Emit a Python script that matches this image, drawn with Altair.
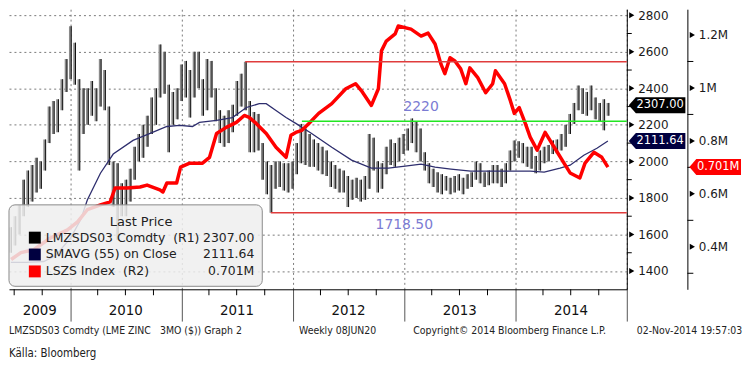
import altair as alt
import pandas as pd

# ---------------- data ----------------
BAR_START = "2009-06-19"
BAR_STEP = "14D"

price_low = [1500, 1540, 1600, 1700, 1750, 1780, 1830, 1850, 1950, 2100,
             2150, 2160, 2280, 2380, 2450, 2420, 1950, 2150, 2200, 2250,
             2220, 2300, 2280, 1980, 1750, 1570, 1700, 1700, 1780, 1900,
             2000, 2020, 2080, 2150, 2200, 2350, 2370, 2050, 2200, 2230,
             2330, 2350, 2240, 2350, 2400, 2250, 2280, 2350, 2220, 2100,
             2080, 2100, 2160, 2250, 2300, 2280, 2050, 2050, 2060, 1900,
             1820, 1718.5, 1850, 1860, 1840, 1830, 1850, 1930, 1990, 1980,
             1970, 1970, 1950, 1930, 1920, 1860, 1850, 1830, 1830, 1750,
             1790, 1800, 1780, 1790, 1850, 1950, 1830, 1850, 1930, 1980,
             1970, 2000, 2040, 2060, 2100, 2050, 2000, 1950, 1880, 1860,
             1830, 1820, 1840, 1820, 1830, 1840, 1820, 1850, 1860, 1900,
             1880, 1860, 1870, 1880, 1880, 1860, 1880, 1950, 2000, 2020,
             1990, 1970, 1960, 1935, 1950, 1990, 2000, 2040, 2045, 2060,
             2080, 2150, 2205, 2280, 2260, 2250, 2280, 2230, 2220, 2170,
             2250]
price_high = [1640, 1700, 1760, 1900, 1950, 1980, 2020, 2000, 2120, 2300,
              2330, 2340, 2450, 2560, 2740, 2650, 2450, 2400, 2400, 2440,
              2400, 2560, 2500, 2300, 2000, 1990, 1880, 1900, 1960, 2080,
              2150, 2200, 2250, 2350, 2400, 2640, 2600, 2420, 2380, 2400,
              2530, 2550, 2500, 2600, 2600, 2450, 2560, 2550, 2400, 2280,
              2250, 2280, 2310, 2440, 2480, 2545, 2330, 2270, 2260, 2100,
              2000, 1980, 2000, 2000, 1990, 1990, 2000, 2100, 2205, 2180,
              2150, 2120, 2100, 2080, 2060, 2000, 1980, 1960, 1950, 1920,
              1900, 1910, 1900, 1920, 2150, 2130, 2000, 1990, 2080, 2120,
              2100, 2130, 2150, 2180, 2235, 2220, 2180, 2050, 1990, 1960,
              1940, 1930, 1920, 1910, 1920, 1930, 1910, 1930, 1940, 2000,
              1990, 1940, 1950, 1980, 1980, 1960, 1990, 2060, 2115, 2110,
              2100, 2080, 2080, 2030, 2060, 2080, 2090, 2115, 2120, 2150,
              2200, 2260, 2320, 2415, 2400, 2380, 2415, 2350, 2320, 2340,
              2320]
price_close = [1580, 1660, 1720, 1850, 1880, 1900, 1950, 1960, 2080, 2250,
               2200, 2300, 2400, 2520, 2600, 2480, 2100, 2300, 2350, 2300,
               2380, 2450, 2350, 2050, 1850, 1750, 1800, 1850, 1930, 2030,
               2100, 2150, 2200, 2300, 2350, 2550, 2400, 2200, 2300, 2380,
               2450, 2500, 2380, 2520, 2430, 2300, 2480, 2400, 2250, 2150,
               2200, 2250, 2280, 2400, 2420, 2350, 2150, 2200, 2100, 1950,
               1880, 1870, 1920, 1900, 1940, 1880, 1950, 2050, 2150, 2050,
               2080, 2050, 2000, 2030, 1960, 1920, 1900, 1880, 1870, 1830,
               1840, 1860, 1820, 1860, 2100, 2000, 1880, 1950, 2050, 2060,
               2030, 2100, 2080, 2150, 2180, 2100, 2020, 1980, 1900, 1880,
               1870, 1860, 1880, 1850, 1870, 1880, 1860, 1890, 1900, 1950,
               1900, 1880, 1900, 1950, 1920, 1900, 1960, 2000, 2080, 2060,
               2050, 2020, 2000, 1970, 2020, 2050, 2060, 2080, 2090, 2120,
               2180, 2230, 2300, 2350, 2300, 2320, 2330, 2260, 2280, 2250,
               2307.00]

sma_dates = ["2009-06-20", "2009-08-09", "2009-10-06", "2009-11-14", "2010-01-02",
             "2010-02-04", "2010-02-26", "2010-04-10", "2010-05-22", "2010-07-26",
             "2010-09-20", "2010-11-14", "2010-12-26", "2011-02-06", "2011-03-01",
             "2011-04-26", "2011-06-17", "2011-08-02", "2011-09-13", "2011-10-06",
             "2011-11-07", "2011-12-10", "2012-01-11", "2012-03-03", "2012-05-08",
             "2012-07-12", "2012-09-15", "2012-11-10", "2013-01-04", "2013-02-25",
             "2013-04-12", "2013-06-03", "2013-08-07", "2013-10-11", "2013-12-15",
             "2014-02-18", "2014-04-05", "2014-05-27", "2014-06-29", "2014-08-13",
             "2014-09-25", "2014-10-31"]
sma_values = [1447, 1447, 1452, 1485, 1580, 1680, 1789, 1935, 2040, 2115,
              2153, 2191, 2197, 2191, 2213, 2224, 2240, 2295, 2316, 2316,
              2278, 2240, 2208, 2153, 2077, 2007, 1963, 1963, 1974, 1985,
              1968, 1958, 1947, 1947, 1947, 1947, 1941, 1963, 1979, 2034,
              2072, 2111.64]

lszs_dates = ["2009-06-21", "2009-07-23", "2009-09-03", "2009-10-29", "2009-12-23",
              "2010-01-25", "2010-02-26", "2010-04-10", "2010-05-12", "2010-05-28",
              "2010-07-06", "2010-08-18", "2010-09-10", "2010-10-22", "2010-11-01",
              "2010-11-14", "2010-12-16", "2010-12-29", "2011-01-28", "2011-03-11",
              "2011-04-03", "2011-04-26", "2011-05-28", "2011-06-30", "2011-07-26",
              "2011-08-11", "2011-09-03", "2011-10-06", "2011-11-07", "2011-12-10",
              "2011-12-26", "2012-01-11", "2012-01-31", "2012-02-23", "2012-03-26",
              "2012-05-08", "2012-06-23", "2012-07-25", "2012-08-13", "2012-09-15",
              "2012-10-08", "2012-10-18", "2012-11-03", "2012-12-02", "2012-12-12",
              "2013-01-23", "2013-02-25", "2013-03-20", "2013-04-12", "2013-05-01",
              "2013-05-14", "2013-05-31", "2013-06-16", "2013-07-05", "2013-07-22",
              "2013-08-04", "2013-08-30", "2013-09-25", "2013-10-18", "2013-10-27",
              "2013-11-26", "2013-12-15", "2013-12-28", "2014-01-13", "2014-02-02",
              "2014-02-18", "2014-03-13", "2014-03-23", "2014-04-08", "2014-05-08",
              "2014-06-09", "2014-06-29", "2014-07-31", "2014-08-17", "2014-09-15",
              "2014-10-11", "2014-10-31"]
lszs_values = [0.352, 0.378, 0.389, 0.434, 0.464, 0.494, 0.540, 0.558, 0.570, 0.622,
               0.622, 0.626, 0.633, 0.615, 0.607, 0.641, 0.641, 0.701, 0.716, 0.716,
               0.738, 0.828, 0.851, 0.870, 0.896, 0.889, 0.866, 0.828, 0.776, 0.738,
               0.821, 0.832, 0.840, 0.866, 0.904, 0.941, 0.997, 1.016, 0.990, 0.934,
               0.997, 1.140, 1.177, 1.204, 1.234, 1.222, 1.196, 1.207, 1.166, 1.091,
               1.054, 1.114, 1.102, 1.072, 1.016, 1.076, 1.039, 0.982, 1.016, 1.065,
               1.016, 0.952, 0.904, 0.926, 0.866, 0.814, 0.765, 0.791, 0.832, 0.776,
               0.716, 0.679, 0.660, 0.716, 0.757, 0.738, 0.701]

r1_ticks = [1400, 1600, 1800, 2000, 2200, 2400, 2600, 2800]
r1_minor = [1500, 1700, 1900, 2100, 2300, 2500, 2700]
r2_ticks = [0.4, 0.6, 0.8, 1.0, 1.2]
r2_minor = [0.3, 0.5, 0.7, 0.9, 1.1]

year_starts = [2010, 2011, 2012, 2013, 2014, 2015]
year_labels = ["2009", "2010", "2011", "2012", "2013", "2014"]
year_label_dates = ["2009-09-23", "2010-07-02", "2011-07-02", "2012-07-02", "2013-07-02", "2014-07-02"]
quarter_ticks = ["2009-07-01", "2009-10-01",
                 "2010-04-01", "2010-07-01", "2010-10-01",
                 "2011-04-01", "2011-07-01", "2011-10-01",
                 "2012-04-01", "2012-07-01", "2012-10-01",
                 "2013-04-01", "2013-07-01", "2013-10-01",
                 "2014-04-01", "2014-07-01", "2014-10-01"]

level_values = [2220, 2545, 1718.5]
level_starts = ["2012-01-31", "2011-07-29", "2011-10-21"]
level_colors = ["#22e622", "#e03c3c", "#e03c3c"]
annot_texts = ["2220", "1718.50"]
annot_dates = ["2013-02-25", "2013-01-01"]
annot_prices = [2295, 1652]

legend_title = "Last Price"
legend_names = ["LMZSDS03 Comdty\u00a0\u00a0(R1)", "SMAVG (55) on Close", "LSZS Index\u00a0\u00a0(R2)"]
legend_colors = ["#000000", "#000040", "#ff0000"]

footer_texts = ["LMZSDS03 Comdty (LME ZINC", "3MO ($)) Graph 2", "Weekly 08JUN20",
                "Copyright\u00a9 2014 Bloomberg Finance L.P.", "02-Nov-2014 19:57:03"]
source_text = "K\u00e4lla: Bloomberg"

# ---------------- layout ----------------
W, H = 622, 282
FONT = "DejaVu Sans"
NARROW = "Liberation Sans Narrow, DejaVu Sans Condensed, sans-serif"


def dt(s):
    y, m, d = map(int, s.split("-"))
    return alt.DateTime(year=y, month=m, date=d, utc=True)


xs = alt.Scale(type="utc", domain=[dt("2009-06-14"), dt("2015-01-01")])
ys = alt.Scale(domain=[1300, 2833], nice=False, zero=False)
ys2 = alt.Scale(domain=[0.2395, 1.2975], nice=False, zero=False)

bar_dates = pd.date_range(BAR_START, periods=len(price_close), freq=BAR_STEP).strftime("%Y-%m-%d")
bars = pd.DataFrame({"date": bar_dates, "low": price_low, "high": price_high, "close": price_close})
sma_df = pd.DataFrame({"date": sma_dates, "v": sma_values})
lszs_df = pd.DataFrame({"date": lszs_dates, "v": lszs_values})
level_df = pd.DataFrame({"start": level_starts, "end": ["2015-01-01"] * 3,
                         "level": level_values, "col": level_colors})
annot_df = pd.DataFrame({"d": annot_dates, "p": annot_prices, "t": annot_texts})
one = pd.DataFrame({"k": [0]})

x_axis = alt.Axis(values=[dt(f"{y}-01-01") for y in year_starts], grid=True, gridDash=[2, 3],
                  gridColor="#7a7a7a", gridWidth=1, labels=False, ticks=True, tickSize=32,
                  tickColor="#555555", tickWidth=1, domain=True, domainColor="#000000",
                  domainWidth=1, title=None)
r1_axis = alt.Axis(orient="right", values=r1_ticks, format="d", grid=True, gridDash=[2, 3],
                   gridColor="#7a7a7a", ticks=False, tickSize=0, domain=True, domainColor="#000000",
                   labelPadding=11, labelFont=FONT, labelFontSize=12, labelColor="#1a1a1a", title=None)
r2_axis = alt.Axis(orient="right", offset=61, values=r2_ticks, labelExpr="datum.value + 'M'",
                   grid=False, ticks=False, tickSize=0, domain=True, domainColor="#000000",
                   labelPadding=11, labelFont=FONT, labelFontSize=12, labelColor="#1a1a1a", title=None)

layers = []

# price bars
layers.append(alt.Chart(bars).mark_rule(strokeWidth=2.6, color="#8a8a8a", clip=True).encode(
    x=alt.X("date:T", scale=xs, axis=x_axis),
    y=alt.Y("low:Q", scale=ys, axis=r1_axis), y2="high:Q"))
layers.append(alt.Chart(bars).mark_rule(strokeWidth=1, color="#111111", xOffset=1, clip=True).encode(
    x=alt.X("date:T", scale=xs, axis=None),
    y=alt.Y("low:Q", scale=ys, axis=None), y2="high:Q"))

# moving average
layers.append(alt.Chart(sma_df).mark_line(color="#2e2e6e", strokeWidth=1.3, clip=True).encode(
    x=alt.X("date:T", scale=xs, axis=None), y=alt.Y("v:Q", scale=ys, axis=None)))

# LSZS index (right axis 2)
layers.append(alt.Chart(lszs_df).mark_line(color="#ff0000", strokeWidth=3.5, strokeJoin="round",
                                            clip=True).encode(
    x=alt.X("date:T", scale=xs, axis=None), y=alt.Y("v:Q", scale=ys2, axis=r2_axis)))

# horizontal levels
layers.append(alt.Chart(level_df).mark_rule(strokeWidth=1.5).encode(
    x=alt.X("start:T", scale=xs, axis=None), x2="end:T",
    y=alt.Y("level:Q", scale=ys, axis=None), color=alt.Color("col:N", scale=None)))
layers.append(alt.Chart(annot_df).mark_text(font=FONT, fontSize=14, color="#7b7bd3").encode(
    x=alt.X("d:T", scale=xs, axis=None), y=alt.Y("p:Q", scale=ys, axis=None), text="t:N"))

# axis tick markers
layers.append(alt.Chart(pd.DataFrame({"v": r1_ticks})).mark_point(
    shape="triangle-right", filled=True, size=36, color="#000000", opacity=1).encode(
    x=alt.value(W + 5), y=alt.Y("v:Q", scale=ys, axis=None)))
layers.append(alt.Chart(pd.DataFrame({"v": r1_minor})).mark_rule(color="#000000").encode(
    x=alt.value(W), x2=alt.value(W + 5), y=alt.Y("v:Q", scale=ys, axis=None)))
layers.append(alt.Chart(pd.DataFrame({"v": r2_ticks})).mark_point(
    shape="triangle-right", filled=True, size=36, color="#000000", opacity=1).encode(
    x=alt.value(W + 66), y=alt.Y("v:Q", scale=ys2, axis=None)))
layers.append(alt.Chart(pd.DataFrame({"v": r2_minor})).mark_rule(color="#000000").encode(
    x=alt.value(W + 61), x2=alt.value(W + 67), y=alt.Y("v:Q", scale=ys2, axis=None)))
layers.append(alt.Chart(pd.DataFrame({"d": quarter_ticks})).mark_rule(color="#000000").encode(
    x=alt.X("d:T", scale=xs, axis=None), y=alt.value(H), y2=alt.value(H + 6)))

# year labels
layers.append(alt.Chart(pd.DataFrame({"d": year_label_dates, "t": year_labels})).mark_text(
    font=NARROW, fontSize=15, color="#111111").encode(
    x=alt.X("d:T", scale=xs, axis=None), y=alt.value(H + 21), text="t:N"))

# legend box
layers.append(alt.Chart(one).mark_rect(fill="#eeeeee", fillOpacity=0.85, stroke="#8a8a8a",
                                       strokeWidth=1, cornerRadius=6).encode(
    x=alt.value(0), x2=alt.value(255), y=alt.value(197), y2=alt.value(279)))
layers.append(alt.Chart(one).mark_text(text=legend_title, font=FONT, fontSize=13,
                                       color="#222222").encode(
    x=alt.value(133), y=alt.value(214)))
leg_vals = [f"{price_close[-1]:.2f}", f"{sma_values[-1]:.2f}", f"{lszs_values[-1]:.3f}M"]
leg_df = pd.DataFrame({"name": legend_names, "col": legend_colors, "val": leg_vals,
                       "ry": [230 + 17 * i for i in range(len(legend_names))]})
layers.append(alt.Chart(leg_df).mark_square(size=144, opacity=1).encode(
    x=alt.value(26), y=alt.Y("ry:Q", scale=None, axis=None), color=alt.Color("col:N", scale=None)))
layers.append(alt.Chart(leg_df).mark_text(font=FONT, fontSize=12.5, align="left",
                                          color="#222222").encode(
    x=alt.value(37), y=alt.Y("ry:Q", scale=None, axis=None), text="name:N"))
layers.append(alt.Chart(leg_df).mark_text(font=FONT, fontSize=12.5, align="right",
                                          color="#222222").encode(
    x=alt.value(247), y=alt.Y("ry:Q", scale=None, axis=None), text="val:N"))

# last-value tags
tag_path1 = "M-1,0L-0.75,-0.28L1,-0.28L1,0.28L-0.75,0.28Z"
tag_df1 = pd.DataFrame({"v": [price_close[-1], sma_values[-1]], "col": ["#000000", "#000040"],
                        "t": leg_vals[:2]})
layers.append(alt.Chart(tag_df1).mark_point(shape=tag_path1, filled=True, size=3249, opacity=1,
                                            strokeWidth=0).encode(
    x=alt.value(W + 30.5), y=alt.Y("v:Q", scale=ys, axis=None), color=alt.Color("col:N", scale=None)))
layers.append(alt.Chart(tag_df1).mark_text(font=FONT, fontSize=11.5, color="#ffffff").encode(
    x=alt.value(W + 33.5), y=alt.Y("v:Q", scale=ys, axis=None), text="t:N"))
tag_path2 = "M-1,0L-0.73,-0.31L1,-0.31L1,0.31L-0.73,0.31Z"
tag_df2 = pd.DataFrame({"v": [lszs_values[-1]], "t": [leg_vals[2]]})
layers.append(alt.Chart(tag_df2).mark_point(shape=tag_path2, filled=True, size=2704, opacity=1,
                                            color="#ff0000", strokeWidth=0).encode(
    x=alt.value(W + 89), y=alt.Y("v:Q", scale=ys2, axis=None)))
layers.append(alt.Chart(tag_df2).mark_text(font=FONT, fontSize=11.5, color="#ffffff").encode(
    x=alt.value(W + 92), y=alt.Y("v:Q", scale=ys2, axis=None), text="t:N"))

# footer
footer_x = [0, 152, 292, 407, 632]
for fx, ft in zip(footer_x, footer_texts):
    layers.append(alt.Chart(one).mark_text(text=ft, font=NARROW, fontSize=10.5, align="left",
                                           color="#222222").encode(
        x=alt.value(fx), y=alt.value(324)))
layers.append(alt.Chart(one).mark_text(text=source_text, font=NARROW, fontSize=11.5, align="left",
                                       color="#222222").encode(
    x=alt.value(0), y=alt.value(347)))

chart = alt.layer(*layers).resolve_scale(x="independent", y="independent").properties(
    width=W, height=H, padding=0).configure_view(strokeWidth=0)

chart.save("out.html", embed_options={"renderer": "svg", "actions": False})
